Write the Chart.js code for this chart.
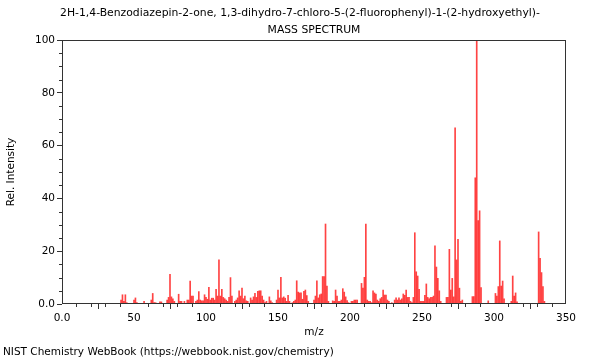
<!DOCTYPE html>
<html>
<head>
<meta charset="utf-8">
<script src="https://cdn.jsdelivr.net/npm/chart.js@4/dist/chart.umd.min.js"></script>
<style>
  body { margin: 0; background: #fff; }
  #wrap { position: relative; width: 600px; height: 360px; }
  #footer { position: absolute; left: 3px; top: 345px; font: 10.5px 'DejaVu Sans'; color: #000; white-space: nowrap; line-height: 12px; }
</style>
</head>
<body>
<div id="wrap">
  <canvas id="myChart" width="600" height="360"></canvas>
  <div id="footer">NIST Chemistry WebBook (https://webbook.nist.gov/chemistry)</div>
</div>
<script>
var titleLine1 = '2H-1,4-Benzodiazepin-2-one, 1,3-dihydro-7-chloro-5-(2-fluorophenyl)-1-(2-hydroxyethyl)-';
var titleLine2 = 'MASS SPECTRUM';

// m/z and relative intensity
var mz = [41, 42, 43, 44, 45, 50, 51, 52, 57, 62, 63, 64, 65, 68, 69,
  73, 74, 75, 76, 77, 78, 81, 82, 83, 85, 87, 88, 89,
  90, 91, 93, 94, 95, 96, 97, 98, 99, 100,
  101, 102, 103, 104, 105, 106, 107, 108, 109, 110,
  111, 112, 113, 114, 115, 116, 117, 118, 120, 121, 122, 123, 124, 125, 126, 127, 128, 129,
  131, 132, 133, 134, 135, 136, 137, 138, 139, 140, 141,
  142, 144, 145, 146, 149, 150, 151, 152, 153, 154, 155, 156, 157, 158, 160, 161, 162, 163, 164, 165, 166, 167, 168, 169, 170, 171,
  175, 176, 177, 178, 179, 180, 181, 182, 183, 184, 185,
  188, 189, 190, 191, 192, 193, 194, 195, 196, 197, 198, 199,
  201, 202, 203, 204, 205, 208, 209, 210, 211, 212, 213, 214, 215, 216, 217, 218, 219, 220, 221, 222, 223, 224, 225, 226, 227, 229,
  231, 232, 233, 234, 235, 236, 237, 238, 239, 240, 241, 242, 243, 244, 245, 246, 247, 248, 249, 250, 251, 252, 253, 254, 255, 256, 257, 258, 259, 260, 261, 262, 263,
  267, 268, 269, 270, 271, 272, 273, 274, 275, 276, 277, 278,
  285, 286, 287, 288, 289, 290, 291, 296,
  301, 302, 303, 304, 305, 306, 307,
  312, 313, 314, 315, 316,
  331, 332, 333, 334, 335];
var intensity = [1.5, 3.5, 1, 3.5, 0.5, 1.5, 2.3, 0.5, 1, 1.5, 4, 0.5, 0.5, 0.8, 0.8,
  1.5, 2.5, 11.2, 2.7, 2, 1, 3.7, 1, 1, 1, 1.5, 1.5, 8.7,
  3, 3, 1, 1.5, 4.7, 1.5, 1.2, 1.2, 3.5, 2.5,
  1.8, 6.3, 1.5, 2.2, 2.2, 1.5, 5.6, 3, 16.7, 3,
  5.6, 2.5, 2, 1.5, 1, 2.5, 10, 3, 1, 1.5, 2.3, 5, 3, 6, 2, 3, 1.2, 1,
  2.3, 1.5, 2.7, 4, 2.5, 4.8, 5, 5, 3, 1.5, 0.5,
  1, 2.7, 1.2, 0.5, 1.5, 5.3, 2.3, 10.1, 2.3, 2.7, 2.2, 1, 3.3, 1, 0.5, 1, 1.5, 8.8, 4.5, 4.2, 4.2, 1.8, 4.8, 5.3, 3.2, 1,
  1.5, 3, 8.8, 2.3, 3.5, 3.8, 10.4, 10.4, 30.3, 6.8, 1,
  1.2, 1, 5.3, 3, 1, 1, 1.5, 5.8, 4.5, 2.7, 1.3, 0.5,
  1, 1, 1.5, 1.5, 1.5, 7.8, 6, 10.1, 30.3, 1.5, 1, 1, 0.5, 5, 4.2, 3.8, 1.5, 1, 2, 2.5, 5.3, 3.4, 3.4, 1.5, 1, 0.5,
  1.5, 2.3, 1.5, 2.3, 1.5, 2, 3.8, 3.3, 5.3, 2.5, 2.5, 1, 0.5, 2.5, 27, 12.2, 10.6, 5.6, 1, 1, 1, 3.3, 7.6, 2.5, 2, 2.5, 2.5, 3, 22, 14, 9.7, 5, 1,
  2.5, 2.5, 20.7, 5.3, 9.7, 2.7, 66.7, 16.7, 24.5, 6, 1, 1.5,
  2.8, 2.8, 47.8, 100, 31.6, 35.3, 6.2, 1.2,
  4, 3, 6.6, 23.9, 6.8, 8.7, 2,
  1, 10.6, 3, 4.2, 0.8,
  27.3, 17.3, 11.9, 6.6, 1];

var xMin = 0, xMax = 350, xMajor = 50, xMinor = 10;
var yMin = 0, yMax = 100, yMajor = 20, yMinor = 5;

var font = 'DejaVu Sans';
var axisColor = '#333333';

// frame round the plot + the short minor ticks
var frameTicks = {
    id: 'frameTicks',
    afterDraw: function(chart) {
        var ctx = chart.ctx, a = chart.chartArea;
        var x = chart.scales.x, y = chart.scales.y;
        ctx.save();
        ctx.strokeStyle = axisColor;
        ctx.lineWidth = 1;
        ctx.beginPath();
        for (var v = xMin; v <= xMax; v += xMinor) {
            if (v % xMajor === 0) continue;
            var px = Math.round(x.getPixelForValue(v)) + 0.5;
            ctx.moveTo(px, a.bottom);
            ctx.lineTo(px, a.bottom + 3);
        }
        for (var w = yMin; w <= yMax; w += yMinor) {
            if (w % yMajor === 0) continue;
            var py = Math.round(y.getPixelForValue(w)) + 0.5;
            ctx.moveTo(a.left, py);
            ctx.lineTo(a.left - 3, py);
        }
        ctx.stroke();
        ctx.strokeRect(Math.round(a.left) + 0.5, Math.round(a.top) + 0.5,
            Math.round(a.right - a.left) - 1, Math.round(a.bottom - a.top) - 1);
        ctx.restore();
    }
};

var ctx = document.getElementById('myChart').getContext('2d');
var myChart = new Chart(ctx, {
    type: 'bar',
    data: {
        datasets: [{
            label: 'Rel. Intensity',
            data: mz.map(function(m, i) { return {x: m, y: intensity[i]}; }),
            backgroundColor: 'rgba(255, 20, 20, 0.8)',
            borderWidth: 0,
            barThickness: 1
        }]
    },
    options: {
        responsive: false,
        animation: false,
        devicePixelRatio: 1,
        layout: { padding: { left: 0, right: 0, top: 0, bottom: 16 } },
        scales: {
            x: {
                type: 'linear',
                min: xMin,
                max: xMax,
                offset: false,
                grid: { display: true, drawOnChartArea: false, drawTicks: true, tickLength: 5, tickColor: axisColor },
                border: { display: false },
                ticks: {
                    stepSize: xMajor,
                    color: '#000',
                    font: { family: font, size: 10.5 },
                    padding: 3,
                    maxRotation: 0,
                    callback: function(v) { return v === 0 ? '0.0' : String(v); }
                },
                title: {
                    display: true,
                    text: 'm/z',
                    color: '#000',
                    font: { family: font, size: 10.5 },
                    padding: { top: 0, bottom: 5 }
                },
                afterFit: function(s) { s.height = 40; }
            },
            y: {
                min: yMin,
                max: yMax,
                grid: { display: true, drawOnChartArea: false, drawTicks: true, tickLength: 5, tickColor: axisColor },
                border: { display: false },
                ticks: {
                    stepSize: yMajor,
                    color: '#000',
                    font: { family: font, size: 10.5 },
                    padding: 2,
                    callback: function(v) { return v === 0 ? '0.0' : String(v); }
                },
                title: {
                    display: true,
                    text: 'Rel. Intensity',
                    color: '#000',
                    font: { family: font, size: 10.5 },
                    padding: { top: 5, bottom: 0 }
                },
                afterFit: function(s) { s.width = 62; }
            },
            // empty right-hand box, only keeps the plot off the right edge
            yRight: {
                position: 'right',
                display: true,
                grid: { display: false },
                border: { display: false },
                ticks: { display: false },
                afterFit: function(s) { s.width = 34; }
            }
        },
        plugins: {
            legend: { display: false },
            tooltip: { enabled: false },
            title: {
                display: true,
                text: titleLine1,
                color: '#000',
                font: { family: font, size: 10.8, weight: 'normal', lineHeight: '14px' },
                padding: { top: 6, bottom: 0 }
            },
            subtitle: {
                display: true,
                text: titleLine2,
                fullSize: false,
                color: '#000',
                font: { family: font, size: 10.8, weight: 'normal', lineHeight: '14px' },
                padding: { top: 3, bottom: 3 }
            }
        }
    },
    plugins: [frameTicks]
});
</script>
</body>
</html>
